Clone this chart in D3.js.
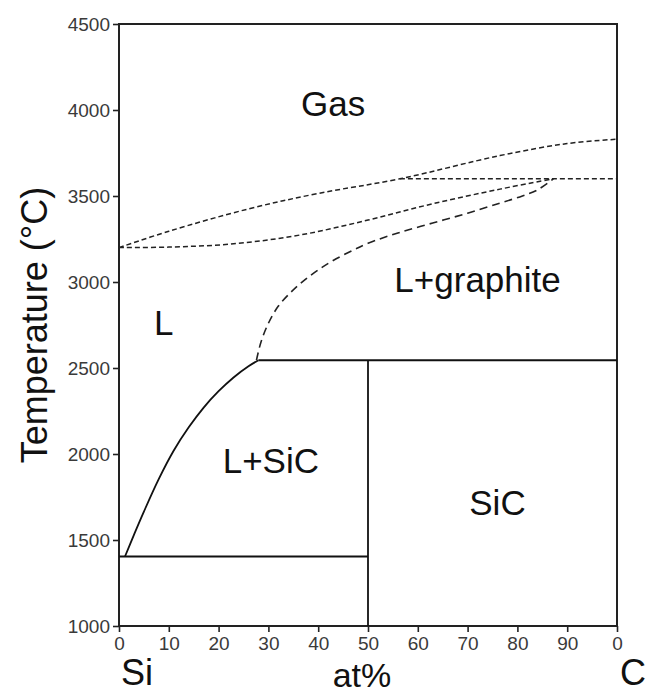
<!DOCTYPE html>
<html>
<head>
<meta charset="utf-8">
<script src="https://d3js.org/d3.v7.min.js"></script>
<style>
  body { margin: 0; background: #fff; }
  text { font-family: "Liberation Sans", Arial, sans-serif; }
</style>
</head>
<body>
<div id="plot"></div>
<script>
// axis ticks
var xTicks = [0, 10, 20, 30, 40, 50, 60, 70, 80, 90, 100];
var xTickLabels = ["0", "10", "20", "30", "40", "50", "60", "70", "80", "90", "0"];
var yTicks = [1000, 1500, 2000, 2500, 3000, 3500, 4000, 4500];

// phase boundaries (at% C, temperature in C)
var siLiquidus = [[1.2, 1404], [3, 1530], [5, 1665], [8, 1855], [11, 2020], [14, 2155], [17, 2270], [20, 2365], [23, 2445], [26, 2510], [28, 2545]];
var graphiteLiquidus = [[27.6, 2545], [28.5, 2650], [30, 2760], [32, 2860], [34.5, 2940], [37, 3005], [40, 3070], [43, 3125], [47, 3185], [50, 3225], [56, 3285], [63, 3343], [70, 3400], [76.5, 3459], [81, 3500], [84, 3535], [87.2, 3600]];
var gasUpper = [[0, 3200], [10, 3295], [26, 3425], [40, 3515], [56.4, 3600], [76.5, 3735], [90, 3805], [100, 3830]];
var gasLower = [[0, 3200], [10, 3203], [23, 3222], [36.3, 3273], [50, 3360], [63, 3455], [76.5, 3540], [87.2, 3600]];
var gasTie = [[56.4, 3600], [100, 3600]];
var solidLines = [
  [[0, 1404], [50, 1404]],
  [[50, 1000], [50, 2545]],
  [[28, 2545], [100, 2545]]
];

// region labels
var regionNames = ["Gas", "L", "L+graphite", "L+SiC", "SiC"];
var regionAt = [[43, 3965], [9, 2690], [72, 2940], [30.5, 1890], [76, 1645]];

var width = 648, height = 695;
var margin = { top: 24, right: 31, bottom: 69, left: 119 };

var svg = d3.select("#plot").append("svg")
  .attr("width", width)
  .attr("height", height);

var x = d3.scaleLinear().domain([0, 100]).range([margin.left, width - margin.right]);
var y = d3.scaleLinear().domain([1000, 4500]).range([height - margin.bottom, margin.top]);

var line = d3.line()
  .x(function(d) { return x(d[0]); })
  .y(function(d) { return y(d[1]); });
var curve = d3.line()
  .x(function(d) { return x(d[0]); })
  .y(function(d) { return y(d[1]); })
  .curve(d3.curveCatmullRom.alpha(0.5));

// axes
var xAxis = d3.axisBottom(x).tickValues(xTicks).tickSize(6)
  .tickFormat(function(d, i) { return xTickLabels[i]; });
var yAxis = d3.axisLeft(y).tickValues(yTicks).tickSize(6).tickFormat(d3.format("d"));

var gx = svg.append("g")
  .attr("transform", "translate(0," + y(1000) + ")")
  .call(xAxis);
var gy = svg.append("g")
  .attr("transform", "translate(" + x(0) + ",0)")
  .call(yAxis);

[gx, gy].forEach(function(g) {
  g.attr("font-size", 19).attr("font-family", null);
  g.select(".domain").remove();
  g.selectAll(".tick line").attr("stroke", "#222").attr("stroke-width", 1.6);
  g.selectAll(".tick text").attr("fill", "#3a3a3a");
});
gx.selectAll(".tick text").attr("dy", "0.78em");
gy.selectAll(".tick text").attr("x", -9).attr("dy", "0.36em");

// frame
svg.append("rect")
  .attr("x", x(0)).attr("y", y(4500))
  .attr("width", x(100) - x(0)).attr("height", y(1000) - y(4500))
  .attr("fill", "none").attr("stroke", "#222").attr("stroke-width", 2);

// solid boundaries
solidLines.forEach(function(seg) {
  svg.append("path").attr("d", line(seg))
    .attr("fill", "none").attr("stroke", "#111").attr("stroke-width", 1.8);
});
svg.append("path").attr("d", curve(siLiquidus))
  .attr("fill", "none").attr("stroke", "#111").attr("stroke-width", 1.8);

// dashed boundaries
svg.append("path").attr("d", curve(graphiteLiquidus))
  .attr("fill", "none").attr("stroke", "#222").attr("stroke-width", 1.6)
  .attr("stroke-dasharray", "8,5");
[gasUpper, gasLower].forEach(function(c) {
  svg.append("path").attr("d", curve(c))
    .attr("fill", "none").attr("stroke", "#222").attr("stroke-width", 1.5)
    .attr("stroke-dasharray", "5,3");
});
svg.append("path").attr("d", line(gasTie))
  .attr("fill", "none").attr("stroke", "#222").attr("stroke-width", 1.5)
  .attr("stroke-dasharray", "5,3");

// region labels
svg.selectAll(".region")
  .data(regionNames)
  .enter().append("text")
  .attr("class", "region")
  .attr("x", function(d, i) { return x(regionAt[i][0]); })
  .attr("y", function(d, i) { return y(regionAt[i][1]); })
  .attr("text-anchor", "middle")
  .style("font-size", "35px")
  .attr("fill", "#111")
  .text(function(d) { return d; });

// axis titles
svg.append("text")
  .attr("transform", "translate(47," + 325 + ") rotate(-90)")
  .attr("text-anchor", "middle")
  .style("font-size", "36px")
  .attr("fill", "#111")
  .text("Temperature (\u00B0C)");

svg.append("text").attr("x", 121).attr("y", 685)
  .style("font-size", "36px").attr("fill", "#111").text("Si");
svg.append("text").attr("x", 646).attr("y", 685)
  .attr("text-anchor", "end")
  .style("font-size", "36px").attr("fill", "#111").text("C");
svg.append("text").attr("x", 362).attr("y", 687)
  .attr("text-anchor", "middle")
  .style("font-size", "34px").attr("fill", "#111").text("at%");
</script>
</body>
</html>
